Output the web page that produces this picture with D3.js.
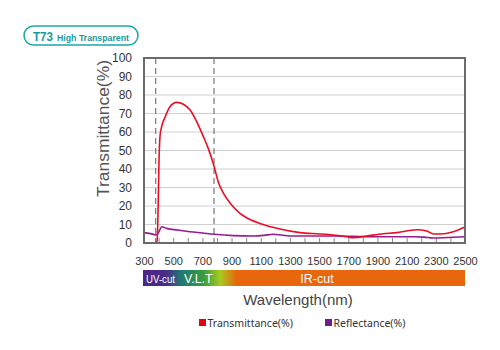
<!DOCTYPE html>
<html>
<head>
<meta charset="utf-8">
<script src="https://cdn.jsdelivr.net/npm/d3@7"></script>
<style>
  body { margin: 0; background: #fff; }
  svg { font-family: "Liberation Sans", Arial, sans-serif; }
  .y-axis text, .x-axis text { fill: #333; }
</style>
</head>
<body>
<div id="chart"></div>
<script>
/**
 * CONSTANTS AND DATA
 * */
const width = 500,
  height = 350,
  margin = { top: 58, bottom: 107, left: 144, right: 35 };

const yTicks = [0, 10, 20, 30, 40, 50, 60, 70, 80, 90, 100];
const xTickLabels = [300, 500, 700, 900, 1100, 1300, 1500, 1700, 1900, 2100, 2300, 2500];
const dashedAt = [380, 780];

// transmittance (red)
const transWl = [300, 350, 380, 390, 397, 403, 410, 418, 444, 478, 524, 570, 615, 661, 707, 741, 782, 809, 844, 901, 958, 1000, 1095, 1232, 1369, 1506, 1597, 1689, 1735, 1826, 1940, 2032, 2100, 2169, 2238, 2283, 2329, 2420, 2500];
const transVal = [0, 0, 0.3, 1.2, 20, 45, 58, 62, 68, 73.7, 76, 75, 72, 65.6, 57.5, 51, 41, 33, 27, 20.5, 16, 13.8, 10.6, 7.6, 5.6, 4.9, 4.3, 3.4, 2.9, 3.8, 5, 5.6, 6.5, 7.2, 6.5, 4.9, 4.9, 6.1, 8.6];

// reflectance (purple)
const reflWl = [300, 360, 380, 395, 408, 421, 455, 530, 615, 700, 782, 912, 1050, 1120, 1186, 1250, 1324, 1597, 1872, 2146, 2220, 2283, 2420, 2500];
const reflVal = [5.6, 4.8, 4.3, 5, 7, 8.8, 7.9, 7, 6.1, 5.4, 4.7, 4, 3.8, 4.1, 4.7, 4.2, 3.8, 3.8, 3.4, 3.4, 3.2, 2.7, 3.1, 3.4];

const bandLabels = ["UV-cut", "V.L.T", "IR-cut"];
const legendLabels = ["Transmittance(%)", "Reflectance(%)"];
const transColor = "#ec0d25",
  reflColor = "#951c94";

const svg = d3.select("#chart").append("svg")
  .attr("width", width)
  .attr("height", height);

// SCALES
const xScale = d3.scaleLinear().domain([300, 2500]).range([margin.left, width - margin.right]);
const yScale = d3.scaleLinear().domain([0, 100]).range([height - margin.bottom, margin.top]);

// title badge
const badge = svg.append("g");
badge.append("rect")
  .attr("x", 24).attr("y", 26).attr("width", 114).attr("height", 19).attr("rx", 9.5)
  .attr("fill", "#fff").attr("stroke", "#1ba6a6").attr("stroke-width", 1.5);
badge.append("text").attr("x", 33).attr("y", 41).attr("fill", "#189a9c").attr("font-weight", "bold")
  .attr("font-size", 13.5).attr("textLength", 20).attr("lengthAdjust", "spacingAndGlyphs").text("T73");
badge.append("text").attr("x", 57).attr("y", 40.5).attr("fill", "#189a9c").attr("font-weight", "bold")
  .attr("font-size", 9.5).attr("textLength", 72).attr("lengthAdjust", "spacingAndGlyphs").text("High Transparent");

// grid lines
svg.append("g")
  .selectAll("line")
  .data(yTicks.filter(d => d > 0 && d < 100))
  .join("line")
  .attr("x1", xScale(300)).attr("x2", xScale(2500))
  .attr("y1", d => yScale(d)).attr("y2", d => yScale(d))
  .attr("stroke", "#cfcfcf").attr("stroke-width", 1);

// y axis labels
const yAxis = d3.axisLeft(yScale).tickValues(yTicks).tickSize(0).tickPadding(12);
svg.append("g")
  .attr("class", "y-axis")
  .attr("transform", `translate(${margin.left},0)`)
  .call(yAxis)
  .call(g => g.select(".domain").remove())
  .selectAll("text").attr("font-size", 12).attr("font-family", "Liberation Sans, Arial");

// x axis: minor ticks every 100, labels every 200
const xTicksMinor = d3.range(300, 2501, 100);
svg.append("g")
  .attr("class", "x-axis")
  .attr("transform", `translate(0,${yScale(0)})`)
  .call(d3.axisBottom(xScale).tickValues(xTicksMinor).tickSize(-5).tickFormat(""))
  .call(g => g.select(".domain").remove())
  .selectAll("line").attr("stroke", "#888");

svg.append("g")
  .attr("class", "x-axis")
  .attr("transform", `translate(0,${yScale(0)})`)
  .call(d3.axisBottom(xScale).tickValues(xTickLabels).tickSize(0).tickPadding(14).tickFormat(d3.format("d")))
  .call(g => g.select(".domain").remove())
  .selectAll("text").attr("font-size", 11).attr("font-family", "Liberation Sans, Arial");

// dashed lines
svg.append("g")
  .selectAll("line")
  .data(dashedAt)
  .join("line")
  .attr("x1", d => xScale(d)).attr("x2", d => xScale(d))
  .attr("y1", yScale(100)).attr("y2", yScale(0))
  .attr("stroke", "#777").attr("stroke-width", 1.2).attr("stroke-dasharray", "6,4");

// curves
const lineFunc = d3.line()
  .x(d => xScale(d[0]))
  .y(d => yScale(d[1]))
  .curve(d3.curveMonotoneX);

svg.append("path")
  .datum(reflWl.map((w, i) => [w, reflVal[i]]))
  .attr("fill", "none").attr("stroke", reflColor).attr("stroke-width", 1.6)
  .attr("d", lineFunc);

svg.append("path")
  .datum(transWl.map((w, i) => [w, transVal[i]]))
  .attr("fill", "none").attr("stroke", transColor).attr("stroke-width", 1.6)
  .attr("d", lineFunc);

// frame
svg.append("rect")
  .attr("x", xScale(300)).attr("y", yScale(100))
  .attr("width", xScale(2500) - xScale(300)).attr("height", yScale(0) - yScale(100))
  .attr("fill", "none").attr("stroke", "#6b6b6b").attr("stroke-width", 2);

// y title
svg.append("text")
  .attr("transform", `translate(109,${(yScale(0) + yScale(100)) / 2 - 22}) rotate(-90)`)
  .attr("text-anchor", "middle")
  .attr("font-size", 16).attr("fill", "#555")
  .attr("textLength", 137).attr("lengthAdjust", "spacingAndGlyphs")
  .text("Transmittance(%)");

// spectrum band
const defs = svg.append("defs");
const grad = defs.append("linearGradient").attr("id", "band");
[[0, "#4b2687"], [0.07, "#4a2a88"], [0.12, "#1f7b70"], [0.19, "#3a9e3c"], [0.24, "#a9c91f"], [0.29, "#e8670c"], [1, "#e8670c"]]
  .forEach(s => grad.append("stop").attr("offset", s[0]).attr("stop-color", s[1]));

svg.append("rect")
  .attr("x", xScale(300) - 1).attr("y", 270)
  .attr("width", xScale(2500) - xScale(300) + 1).attr("height", 16)
  .attr("fill", "url(#band)");

svg.append("text").attr("x", 146).attr("y", 282.5).attr("fill", "#fff")
  .attr("font-size", 11).attr("textLength", 29).attr("lengthAdjust", "spacingAndGlyphs").text(bandLabels[0]);
svg.append("text").attr("x", 184).attr("y", 283).attr("fill", "#fff")
  .attr("font-size", 12.5).text(bandLabels[1]);
svg.append("text").attr("x", 317).attr("y", 283).attr("fill", "#fff").attr("text-anchor", "middle")
  .attr("font-size", 12.5).text(bandLabels[2]);

// x title
svg.append("text")
  .attr("x", 298).attr("y", 305)
  .attr("text-anchor", "middle")
  .attr("font-size", 15).attr("fill", "#444")
  .text("Wavelength(nm)");

// legend
const legend = svg.append("g");
const legendX = [199, 325];
const legendColors = ["#e60012", "#6a1f8c"];
legend.selectAll("rect")
  .data(legendLabels)
  .join("rect")
  .attr("x", (d, i) => legendX[i]).attr("y", 319)
  .attr("width", 7).attr("height", 7)
  .attr("fill", (d, i) => legendColors[i]);
legend.selectAll("text")
  .data(legendLabels)
  .join("text")
  .attr("x", (d, i) => legendX[i] + 8.5).attr("y", 326.5)
  .attr("font-size", 10.5).attr("fill", "#333")
  .attr("font-family", "Noto Sans, sans-serif")
  .text(d => d);
</script>
</body>
</html>
